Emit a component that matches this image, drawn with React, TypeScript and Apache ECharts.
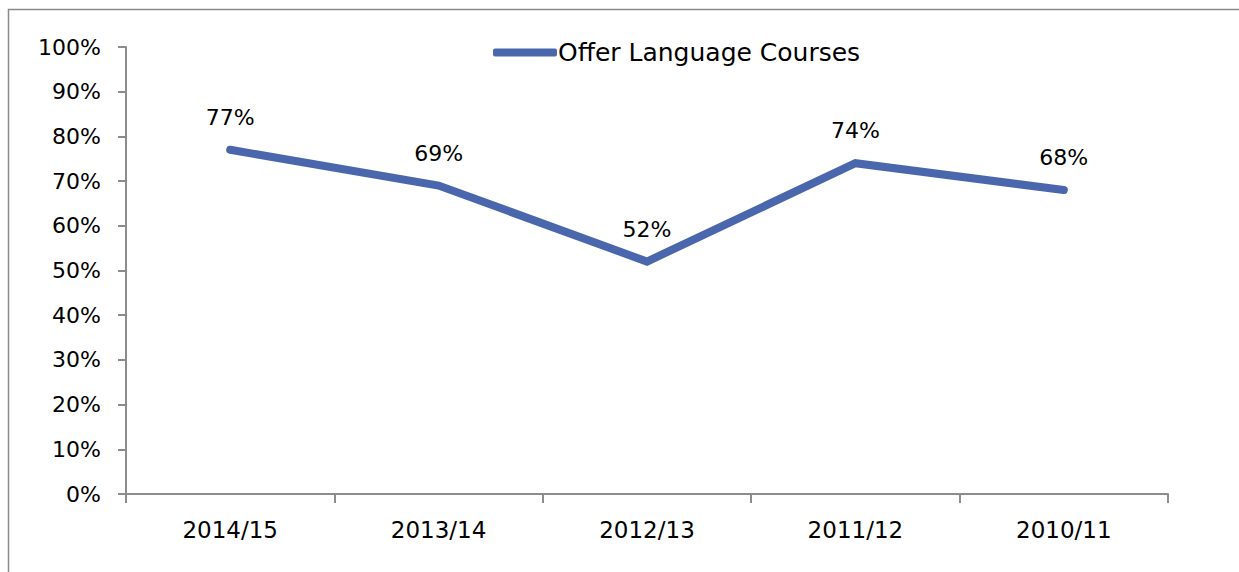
import React, { useEffect, useRef } from "react";
import * as echarts from "echarts";

const categories = ["2014/15", "2013/14", "2012/13", "2011/12", "2010/11"];
const seriesName = "Offer Language Courses";
const values = [77, 69, 52, 74, 68];
const yTicks = [0, 10, 20, 30, 40, 50, 60, 70, 80, 90, 100];

const FONT = "'DejaVu Sans', sans-serif";
const LINE_COLOR = "#4a66ac";

export default function App() {
  const ref = useRef<HTMLDivElement>(null);
  useEffect(() => {
    const chart = echarts.init(ref.current!, undefined, { renderer: "svg" });
    chart.setOption({
      animation: false,
      backgroundColor: "#ffffff",
      textStyle: { fontFamily: FONT },
      graphic: [
        {
          type: "rect",
          silent: true,
          shape: { x: 8.5, y: 9.5, width: 1260, height: 600 },
          style: { fill: "none", stroke: "#8a8a8a", lineWidth: 1.5 },
        },
      ],
      legend: {
        show: true,
        top: 35,
        left: 488,
        itemWidth: 64,
        itemHeight: 8,
        itemGap: 0,
        textStyle: { fontSize: 25, color: "#000", fontFamily: FONT, padding: [0, 0, 0, -4] },
        data: [{ name: seriesName, icon: "roundRect" }],
      },
      grid: { left: 126, right: 71, top: 47, bottom: 78, containLabel: false },
      xAxis: {
        type: "category",
        data: categories,
        boundaryGap: true,
        axisLine: { lineStyle: { color: "#8c8c8c", width: 2 } },
        axisTick: { show: true, length: 9, lineStyle: { color: "#8c8c8c", width: 2 } },
        axisLabel: { color: "#000", fontSize: 23, margin: 24, fontFamily: FONT },
        splitLine: { show: false },
      },
      yAxis: {
        type: "value",
        min: yTicks[0],
        max: yTicks[yTicks.length - 1],
        interval: 10,
        axisLine: { show: true, lineStyle: { color: "#8c8c8c", width: 2 } },
        axisTick: { show: true, length: 8, lineStyle: { color: "#8c8c8c", width: 2 } },
        axisLabel: { color: "#000", fontSize: 22, margin: 25, formatter: "{value}%", fontFamily: FONT },
        splitLine: { show: false },
      },
      series: [
        {
          name: seriesName,
          type: "line",
          data: values,
          symbol: "circle",
          symbolSize: 7,
          showSymbol: true,
          lineStyle: { color: LINE_COLOR, width: 8, cap: "round", join: "miter" },
          itemStyle: { color: LINE_COLOR },
          label: {
            show: true,
            position: "top",
            distance: 18,
            formatter: "{c}%",
            color: "#000",
            fontSize: 22,
            fontFamily: FONT,
          },
        },
      ],
    });
    return () => chart.dispose();
  }, []);
  return (
    <div
      ref={ref}
      style={{ position: "fixed", left: 0, top: 0, width: 1239, height: 572 }}
    />
  );
}
